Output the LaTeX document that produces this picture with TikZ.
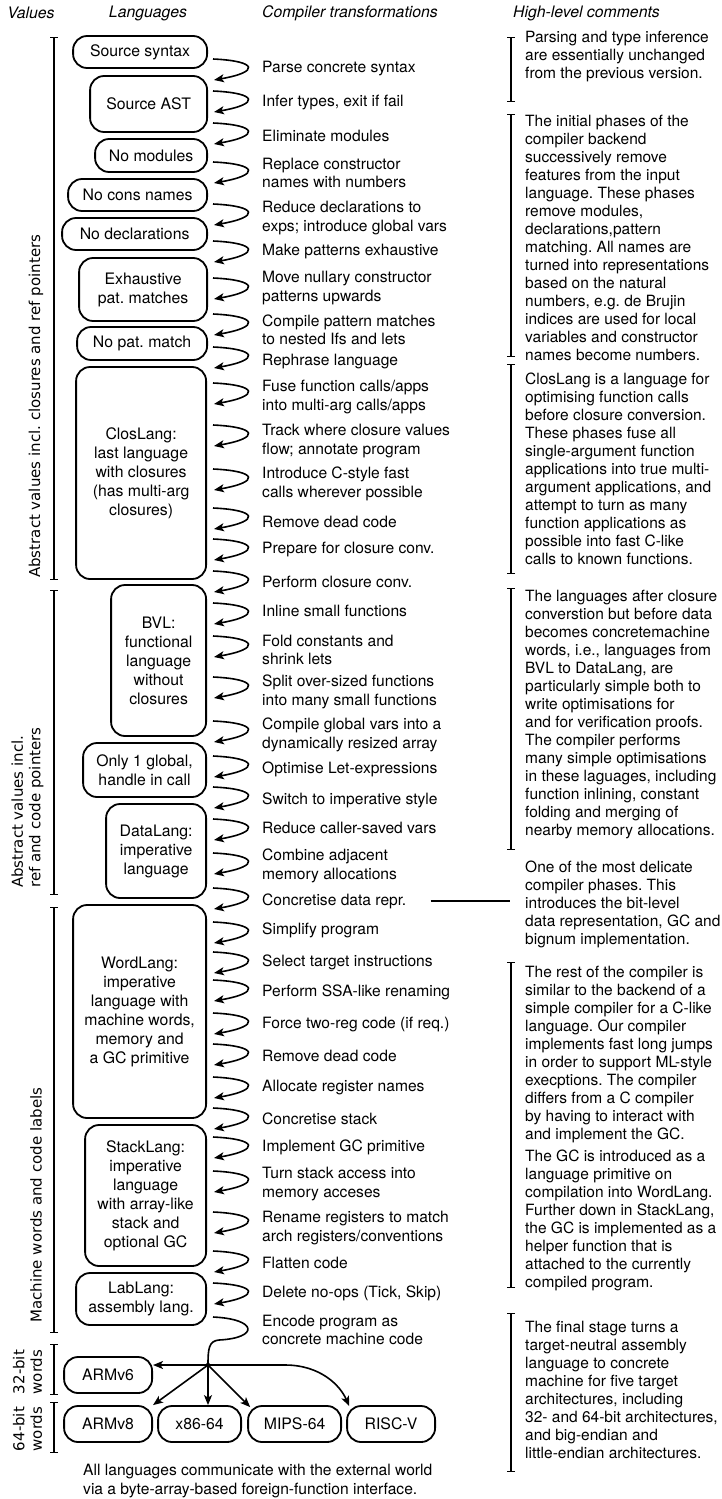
\documentclass[tikz,border=0pt]{standalone}
\usepackage{fontspec}
\setmainfont{TeX Gyre Heros}
\newfontfamily\sidefont{DejaVu Sans}
\usetikzlibrary{arrows.meta}
\frenchspacing

\tikzset{
  lang/.style={draw, line width=1.8pt, rounded corners=14pt, anchor=east,
    align=center, inner sep=0pt, font=\fontsize{15.8}{19}\selectfont},
  trans/.style={anchor=west, align=left, inner sep=0pt,
    font=\fontsize{15.6}{18.5}\selectfont},
  note/.style={anchor=west, align=left, inner sep=0pt,
    font=\fontsize{15.5}{18}\selectfont},
  heading/.style={inner sep=0pt, font=\fontsize{15.8}{18}\selectfont\itshape},
  sidelabel/.style={rotate=90, inner sep=0pt,
    font=\sidefont\fontsize{15}{17.5}\selectfont},
  passarrow/.style={line width=1.6pt, -{Stealth[length=10pt,width=8pt,inset=2.5pt]}},
  spanbar/.style={line width=1.3pt, {Bar[width=8pt]}-{Bar[width=8pt]}},
}

\begin{document}
\begin{tikzpicture}[x=1pt, y=-1pt]
    \useasboundingbox (0,0) rectangle (722,1499);

    \node[heading] (hval) at (31,13) {Values};
    \node[heading] (hlang) at (148,13) {Languages};
    \node[heading, anchor=west] (htrans) at (262,13) {Compiler transformations};
    \node[heading, anchor=west] (hnote) at (513,13) {High-level comments};

    \draw[spanbar] (54,37) -- (54,580);
    \draw[spanbar] (54,590) -- (54,895);
    \draw[spanbar] (54,907) -- (54,1333);
    \draw[spanbar] (54,1344) -- (54,1395);
    \draw[spanbar] (54,1402) -- (54,1453);
    \node[sidelabel, anchor=west] (closval) at (36,578) {Abstract values incl. closures and ref pointers};
    \node[sidelabel, anchor=west, align=left] (codeval) at (27.5,888) {Abstract values incl.\\ref and code pointers};
    \node[sidelabel, anchor=west] (wordval) at (36,1323) {Machine words and code labels};
    \node[sidelabel, align=center] (bits32) at (27.5,1372) {32-bit\\words};
    \node[sidelabel, align=center] (bits64) at (27.5,1429) {64-bit\\words};

    \node[lang, minimum width=134pt, minimum height=32pt] (srcsyn) at (208,52) {Source syntax};
    \node[lang, minimum width=117pt, minimum height=56pt] (srcast) at (208,104) {Source AST};
    \node[lang, minimum width=112pt, minimum height=33pt] (nomods) at (208,155.5) {No modules};
    \node[lang, minimum width=139pt, minimum height=32pt] (nocons) at (208,195) {No cons names};
    \node[lang, minimum width=145pt, minimum height=32pt] (nodecs) at (208,234) {No declarations};
    \node[lang, minimum width=128pt, minimum height=63pt] (exhpat) at (208,289.5) {Exhaustive\\pat. matches};
    \node[lang, minimum width=130pt, minimum height=33pt] (nopat) at (208,343.5) {No pat. match};
    \node[lang, minimum width=130pt, minimum height=212pt] (closlang) at (207,473) {ClosLang:\\last language\\with closures\\(has multi-arg\\closures)};
    \node[lang, minimum width=95pt, minimum height=151pt] (bvl) at (207,660.5) {BVL:\\functional\\language\\without\\closures};
    \node[lang, minimum width=123pt, minimum height=54pt] (oneglob) at (207,770) {Only 1 global,\\handle in call};
    \node[lang, minimum width=100pt, minimum height=94pt] (datalang) at (207,851) {DataLang:\\imperative\\language};
    \node[lang, minimum width=133pt, minimum height=213pt] (wordlang) at (207,1011.5) {WordLang:\\imperative\\language with\\machine words,\\memory and\\a GC primitive};
    \node[lang, minimum width=121pt, minimum height=141pt] (stacklang) at (207,1195.5) {StackLang:\\imperative\\language\\with array-like\\stack and\\optional GC};
    \node[lang, minimum width=130pt, minimum height=52pt] (lablang) at (207,1299) {LabLang:\\assembly lang.};
    \node[lang, minimum width=88pt, minimum height=36pt] (armsix) at (153,1375) {ARMv6};
    \node[lang, minimum width=88pt, minimum height=36pt] (armeight) at (153,1424) {ARMv8};
    \node[lang, minimum width=83pt, minimum height=36pt] (xeightysix) at (242,1424) {x86-64};
    \node[lang, minimum width=93pt, minimum height=36pt] (mips) at (342,1424) {MIPS-64};
    \node[lang, minimum width=88pt, minimum height=36pt] (riscv) at (436,1424) {RISC-V};

    \foreach \ys/\yl/\txt [count=\i] in {
      59/69/{Parse concrete syntax},
      91/102/{Infer types, exit if fail},
      123/136/{Eliminate modules},
      162/173/{Replace constructor\\names with numbers},
      204/218/{Reduce declarations to\\exps; introduce global vars},
      241/252/{Make patterns exhaustive},
      278/288/{Move nullary constructor\\patterns upwards},
      314/330/{Compile pattern matches\\to nested Ifs and lets},
      347/362/{Rephrase language},
      383/397/{Fuse function calls/apps\\into multi-arg calls/apps},
      425/441/{Track where closure values\\flow; annotate program},
      469/484/{Introduce C-style fast\\calls wherever possible},
      508/522/{Remove dead code},
      539/549/{Prepare for closure conv.},
      571/582/{Perform closure conv.},
      603/611/{Inline small functions},
      636/650/{Fold constants and\\shrink lets},
      677/692/{Split over-sized functions\\into many small functions},
      721/735/{Compile global vars into a\\dynamically resized array},
      756/769/{Optimise Let-expressions},
      787/800/{Switch to imperative style},
      819/828/{Reduce caller-saved vars},
      853/866/{Combine adjacent\\memory allocations},
      888/901/{Concretise data repr.},
      922/930/{Simplify program},
      952/962/{Select target instructions},
      980/992/{Perform SSA-like renaming},
      1013/1024/{Force two-reg code (if req.)},
      1044/1056/{Remove dead code},
      1077/1088/{Allocate register names},
      1108/1119/{Concretise stack},
      1137/1147/{Implement GC primitive},
      1171/1184/{Turn stack access into\\memory acceses},
      1212/1228/{Rename registers to match\\arch registers/conventions},
      1251/1263/{Flatten code},
      1283/1293/{Delete no-ops (Tick, Skip)}
    }{
      \node[trans] (t\i) at (262,\yl) {\txt};
      \coordinate (p\i) at (213,\ys);
      \coordinate (q\i) at (214,\ys+21);
      \draw[passarrow] (p\i) .. controls +(45,2) and +(46,-8) .. (q\i);
    }

    \node[trans] (t37) at (262,1330) {Encode program as\\concrete machine code};
    \coordinate (p37) at (213,1317);
    \coordinate (fork) at (208,1365);
    \draw[line width=1.6pt] (p37) .. controls +(45,2) and +(40,-2) .. (219,1340)
        .. controls (209,1341) and (208,1348) .. (fork);
    \fill (fork) circle (2.2pt);
    \draw[passarrow] (fork) -- (armsix.east |- fork);
    \draw[passarrow] (fork) -- (armeight.north east);
    \draw[passarrow] (fork) -- (fork |- xeightysix.north);
    \draw[passarrow] (fork) -- ([xshift=3pt,yshift=-2pt]mips.north west);
    \draw[passarrow] (fork) -- (285,1365) .. controls (320,1365) and (340,1385)
        .. ([xshift=3pt,yshift=-1pt]riscv.north west);

    \draw[spanbar] (511,37) -- (511,102);
    \draw[spanbar] (511,114) -- (511,357);
    \draw[spanbar] (511,364) -- (511,574);
    \draw[spanbar] (511,588) -- (511,850);
    \draw[spanbar] (511,962) -- (511,1288);
    \draw[spanbar] (511,1313) -- (511,1472);

    \node[note] (c1) at (525,57) {Parsing and type inference\\are essentially unchanged\\from the previous version.};
    \node[note] (c2) at (525,238) {The initial phases of the\\compiler backend\\successively remove\\features from the input\\language. These phases\\remove modules,\\declarations,pattern\\matching. All names are\\turned into representations\\based on the natural\\numbers, e.g. de Brujin\\indices are used for local\\variables and constructor\\names become numbers.};
    \node[note] (c3) at (525,469) {ClosLang is a language for\\optimising function calls\\before closure conversion.\\These phases fuse all\\single-argument function\\applications into true multi-\\argument applications, and\\attempt to turn as many\\function applications as\\possible into fast C-like\\calls to known functions.};
    \node[note] (c4) at (525,715) {The languages after closure\\converstion but before data\\becomes concretemachine\\words, i.e., languages from\\BVL to DataLang, are\\particularly simple both to\\write optimisations for\\and for verification proofs.\\The compiler performs\\many simple optimisations\\in these laguages, including\\function inlining, constant\\folding and merging of\\nearby memory allocations.};
    \node[note] (c5) at (525,904) {One of the most delicate\\compiler phases. This\\introduces the bit-level\\data representation, GC and\\bignum implementation.};
    \node[note] (c6) at (525,1055) {The rest of the compiler is\\similar to the backend of a\\simple compiler for a C-like\\language. Our compiler\\implements fast long jumps\\in order to support ML-style\\execptions. The compiler\\differs from a C compiler\\by having to interact with\\and implement the GC.};
    \node[note] (c7) at (525,1220) {The GC is introduced as a\\language primitive on\\compilation into WordLang.\\Further down in StackLang,\\the GC is implemented as a\\helper function that is\\attached to the currently\\compiled program.};
    \node[note] (c8) at (525,1390) {The final stage turns a\\target-neutral assembly\\language to concrete\\machine for five target\\architectures, including\\32- and 64-bit architectures,\\and big-endian and\\little-endian architectures.};
    \draw[line width=1.3pt] ([xshift=24pt]t24.east) -- ([xshift=-15pt]t24.east -| c5.west);

    \node[trans] (ffi) at (83,1481) {All languages communicate with the external world\\via a byte-array-based foreign-function interface.};
\end{tikzpicture}
\end{document}
